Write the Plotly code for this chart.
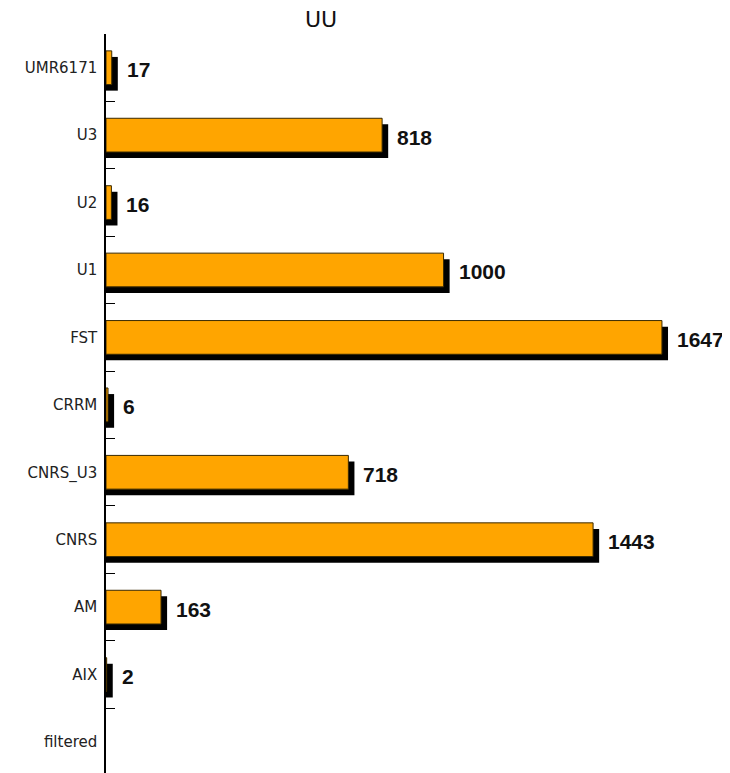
import plotly.graph_objects as go

# Data (top-to-bottom order in the picture)
categories = ["UMR6171", "U3", "U2", "U1", "FST", "CRRM", "CNRS_U3", "CNRS", "AM", "AIX", "filtered"]
values = [17, 818, 16, 1000, 1647, 6, 718, 1443, 163, 2, None]
title_text = "UU"

# plot from bottom to top on a categorical axis
cats = categories[::-1]
vals = values[::-1]

bar_width = 0.5
shadow_dx = 18      # data units (~6 px)
shadow_dy = 0.09    # category units (~6 px)

shadow_vals = [None if v is None else v + shadow_dx for v in vals]

fig = go.Figure()

# shadow (3D extrusion look)
fig.add_trace(go.Bar(
    y=cats, x=shadow_vals, orientation="h",
    width=bar_width, offset=-bar_width / 2 - shadow_dy,
    marker=dict(color="#000000", line=dict(width=0)),
    hoverinfo="skip", showlegend=False,
))
# main bars
fig.add_trace(go.Bar(
    y=cats, x=vals, orientation="h",
    width=bar_width, offset=-bar_width / 2,
    marker=dict(color="#FFA500", line=dict(color="#3a2a00", width=1)),
    showlegend=False,
))

for c, v in zip(cats, vals):
    if v is None:
        continue
    fig.add_annotation(
        x=v, y=c, xref="x", yref="y",
        text=str(v), showarrow=False,
        xanchor="left", yanchor="middle", xshift=13, yshift=-2,
        font=dict(family="Liberation Sans, Arial, sans-serif",
                  size=21, color="#111111", weight="bold"),
    )

fig.add_annotation(
    x=(313 - 98) / 614, y=1 + (26 - 11.5) / 739, xref="paper", yref="paper",
    text=title_text, showarrow=False, xanchor="center", yanchor="middle",
    font=dict(family="DejaVu Sans, sans-serif", size=22, color="#111111"),
)

# page body has an 8px margin, so the figure is 722x765
fig.update_layout(
    width=722, height=765,
    margin=dict(l=98, r=10, t=26, b=0, pad=0, autoexpand=False),
    paper_bgcolor="white", plot_bgcolor="white",
    barmode="overlay",
    xaxis=dict(range=[0, 1819], visible=False, showgrid=False, zeroline=False,
               fixedrange=True, automargin=False),
    yaxis=dict(
        type="category", categoryorder="array", categoryarray=cats,
        range=[-0.46, 10.5], automargin=False,
        showline=True, linecolor="#000000", linewidth=1.5,
        ticks="inside", tickson="boundaries", ticklen=9, tickwidth=1, tickcolor="#000000",
        showgrid=False, zeroline=False,
        tickfont=dict(family="DejaVu Sans, sans-serif", size=15, color="#222222"),
        ticklabelstandoff=4,
    ),
)

fig.write_html("out.html")
